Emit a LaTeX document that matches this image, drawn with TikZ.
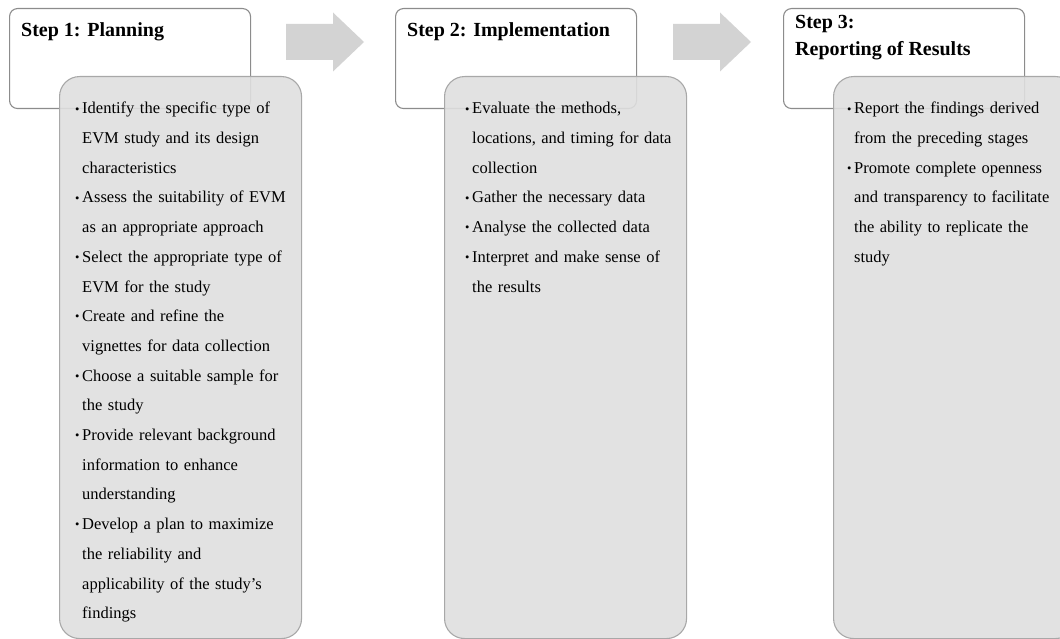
\documentclass[tikz,border=0pt]{standalone}
\usepackage{fontspec}
\setmainfont{Liberation Serif}
\usepackage{tikz}
\usetikzlibrary{positioning}
\definecolor{framegray}{RGB}{140,140,140}
\definecolor{boxgray}{RGB}{223,223,223}
\definecolor{boxline}{RGB}{168,168,168}
\definecolor{arrowgray}{RGB}{211,211,211}

\newcommand{\evmitem}[1]{\par\hangindent=7pt\hangafter=1\noindent
  \makebox[7pt][l]{\raisebox{0.8pt}{\fontsize{12.5}{12.5}\selectfont\textbullet}}#1\par}

\tikzset{
  header/.style={draw=framegray, line width=1.1pt, fill=white, rounded corners=8pt,
    minimum width=241pt, minimum height=100pt, anchor=north west, inner sep=0pt},
  detail/.style={draw=boxline, line width=1.1pt, fill=boxgray, fill opacity=0.9,
    rounded corners=20pt, minimum width=242pt, minimum height=562pt,
    anchor=north west, inner sep=0pt},
  steptitle/.style={inner sep=0pt, align=left,
    font=\fontsize{20}{26.5}\selectfont\bfseries},
  steplist/.style={inner sep=0pt, text width=228pt,
    font=\fontsize{16.5}{29.7}\selectfont},
  flow/.style={fill=arrowgray}
}

\begin{document}
\begin{tikzpicture}[x=1pt,y=-1pt]
  \useasboundingbox (0,0) rectangle (1060,639);
  \clip (0,0) rectangle (1060,639);
  % step headers
  \node[header] (hdr1) at (9,8) {};
  \node[header] (hdr2) at (395,8) {};
  \node[header] (hdr3) at (783,8) {};
  % arrows between the steps
  \coordinate (arw1) at (286,42);
  \coordinate (arw2) at (673,42);
  \foreach \a in {arw1,arw2}
    \fill[flow] (\a) ++(0,-18) -- ++(47,0) -- ++(0,-11.5) -- ++(31,29.5)
      -- ++(-31,29.5) -- ++(0,-11.5) -- ++(-47,0) -- cycle;
  % detail boxes
  \node[detail] (det1) at (59,76) {};
  \node[detail] (det2) at (444,76) {};
  \node[detail] (det3) at (833,76) {};
  % titles
  \node[steptitle, below right=14pt and 12pt of hdr1.north west] (ttl1) {Step 1: Planning};
  \node[steptitle, below right=14pt and 12pt of hdr2.north west] (ttl2) {Step 2: Implementation};
  \node[steptitle, below right=7.5pt and 12pt of hdr3.north west] (ttl3) {Step 3:\\Reporting of Results};
  % bullet lists
  \node[steplist, below right=8pt and 16pt of det1.north west] (lst1) {%
    \evmitem{Identify the specific type of\newline EVM study and its design\newline characteristics}
    \evmitem{Assess the suitability of EVM\newline as an appropriate approach}
    \evmitem{Select the appropriate type of\newline EVM for the study}
    \evmitem{Create and refine the\newline vignettes for data collection}
    \evmitem{Choose a suitable sample for\newline the study}
    \evmitem{Provide relevant background\newline information to enhance\newline understanding}
    \evmitem{Develop a plan to maximize\newline the reliability and\newline applicability of the study{\char"27}s\newline findings}};
  \node[steplist, below right=8pt and 21pt of det2.north west] (lst2) {%
    \evmitem{Evaluate the methods,\newline locations, and timing for data\newline collection}
    \evmitem{Gather the necessary data}
    \evmitem{Analyse the collected data}
    \evmitem{Interpret and make sense of\newline the results}};
  \node[steplist, below right=8pt and 14pt of det3.north west] (lst3) {%
    \evmitem{Report the findings derived\newline from the preceding stages}
    \evmitem{Promote complete openness\newline and transparency to facilitate\newline the ability to replicate the\newline study}};
\end{tikzpicture}
\end{document}
